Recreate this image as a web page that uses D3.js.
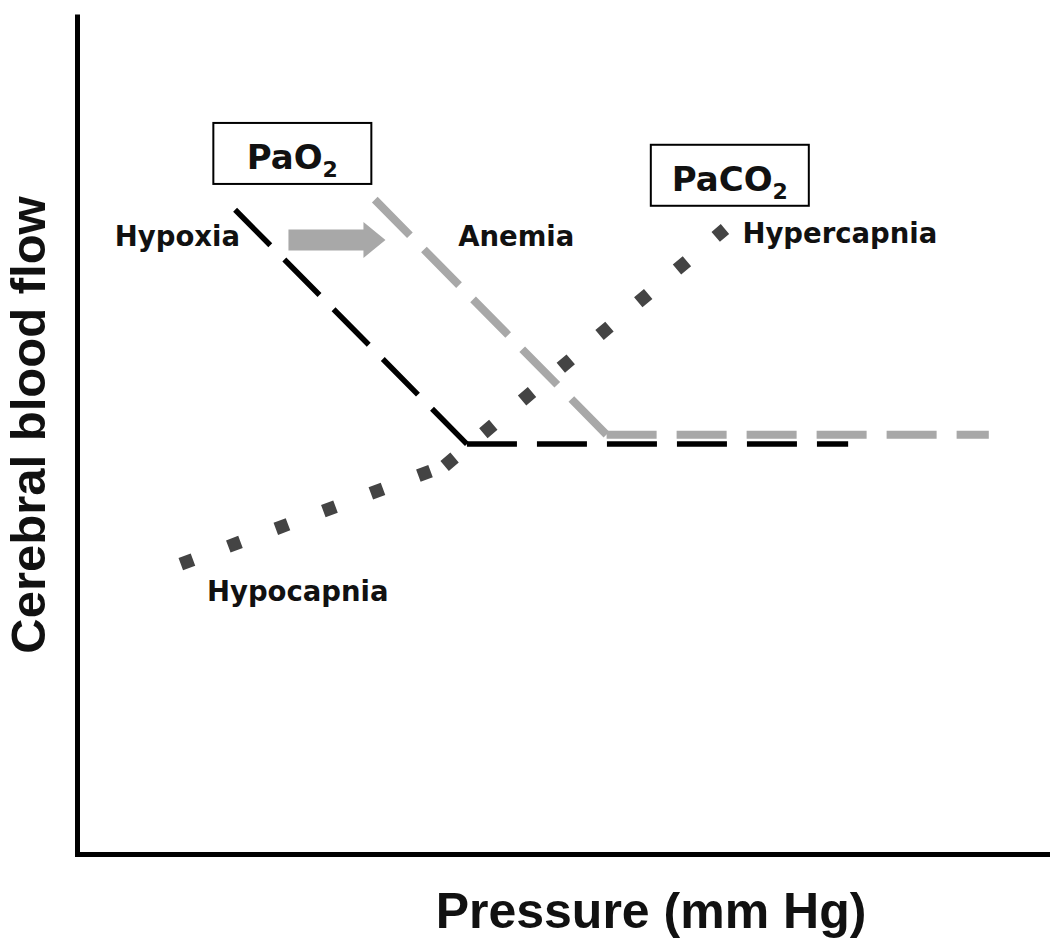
<!DOCTYPE html>
<html>
<head>
<meta charset="utf-8">
<script src="https://cdn.jsdelivr.net/npm/d3@7"></script>
<style>
	body { margin: 0; background: #fff; }
	svg { display: block; }
</style>
</head>
<body>
<svg id="cbf-chart" width="1050" height="949"></svg>
<script>
// curve vertices, arbitrary units (pressure 0-100, flow 0-100)
const pao2Curve = [[16.3, 76.7], [40.2, 48.8], [79.5, 48.8]];
const anemiaCurve = [[30.7, 77.9], [54.6, 49.9], [94.0, 49.9]];
const paco2Curve = [[10.7, 34.5], [37.9, 46.2], [66.8, 74.4]];

const curveNames = ['Hypoxia', 'Anemia', 'Hypocapnia', 'Hypercapnia'];
const curveNameAt = [[3.9, 72.4], [39.3, 72.4], [13.4, 30.1], [68.6, 72.7]];

const boxNames = ['PaO', 'PaCO'];
const boxAt = [[22.2, 83.4], [67.3, 80.8]];

const shiftArrow = [[21.8, 73.1], [31.8, 73.1]];

const svg = d3.select('svg[id=cbf-chart]');

const x = d3.scaleLinear().domain([0, 100]).range([77, 1047]);
const y = d3.scaleLinear().domain([0, 100]).range([854, 14]);

// Axes: only the two thick domain lines
svg.append('g')
	.attr('transform', 'translate(0,854)')
	.call(d3.axisBottom(x).ticks(0).tickSizeOuter(0))
	.call((g) => g.select('.domain')
		.attr('stroke', '#000')
		.attr('stroke-width', 5)
		.attr('stroke-linecap', 'square'));

svg.append('g')
	.attr('transform', 'translate(77,0)')
	.call(d3.axisLeft(y).ticks(0).tickSizeOuter(0))
	.call((g) => g.select('.domain')
		.attr('stroke', '#000')
		.attr('stroke-width', 5));

svg.append('text')
	.attr('x', 651)
	.attr('y', 928)
	.attr('text-anchor', 'middle')
	.attr('font-family', '"Liberation Sans", Arial, sans-serif')
	.attr('font-weight', 'bold')
	.attr('font-size', 50)
	.attr('fill', '#111')
	.text('Pressure (mm Hg)');

svg.append('text')
	.attr('transform', 'translate(45,425) rotate(-90)')
	.attr('text-anchor', 'middle')
	.attr('font-family', '"Liberation Sans", Arial, sans-serif')
	.attr('font-weight', 'bold')
	.attr('font-size', 49)
	.attr('fill', '#111')
	.text('Cerebral blood flow');

// each straight piece restarts its dash pattern, like the drawn original
const pieces = (pts) => d3.pairs(pts);
const line = d3.line().x((d) => x(d[0])).y((d) => y(d[1]));

const curves = [
	{ id: 'anemia', pts: anemiaCurve, color: '#a8a8a8', width: 8, dash: '50 20' },
	{ id: 'pao2', pts: pao2Curve, color: '#000', width: 5.5, dash: '50 20' },
	{ id: 'paco2', pts: paco2Curve, color: '#444', width: 13, dash: '13 37.7' },
];

curves.forEach((c) => {
	svg.append('g')
		.attr('class', 'curve-' + c.id)
		.selectAll('path')
		.data(pieces(c.pts))
		.join('path')
		.attr('d', line)
		.attr('fill', 'none')
		.attr('stroke', c.color)
		.attr('stroke-width', c.width)
		.attr('stroke-dasharray', c.dash)
		.attr('stroke-linecap', 'butt');
});

// block arrow Hypoxia -> Anemia
const ax0 = x(shiftArrow[0][0]);
const ax1 = x(shiftArrow[1][0]);
const ay = y(shiftArrow[0][1]);
svg.append('path')
	.attr('d', [
		'M', ax0, ay - 10.5,
		'L', ax1 - 22, ay - 10.5,
		'L', ax1 - 22, ay - 18,
		'L', ax1, ay,
		'L', ax1 - 22, ay + 18,
		'L', ax1 - 22, ay + 10.5,
		'L', ax0, ay + 10.5, 'Z'
	].join(' '))
	.attr('fill', '#a8a8a8');

svg.append('g')
	.selectAll('text')
	.data(curveNames)
	.join('text')
	.attr('x', (d, i) => x(curveNameAt[i][0]))
	.attr('y', (d, i) => y(curveNameAt[i][1]))
	.attr('font-family', '"DejaVu Sans", sans-serif')
	.attr('font-weight', 'bold')
	.attr('font-size', 27.5)
	.attr('fill', '#111')
	.text((d) => d);

// PaO2 / PaCO2 boxed labels
const boxes = svg.append('g')
	.selectAll('g')
	.data(boxNames)
	.join('g')
	.attr('transform', (d, i) => 'translate(' + [x(boxAt[i][0]), y(boxAt[i][1])] + ')');

boxes.append('rect')
	.attr('x', -79)
	.attr('y', -30.5)
	.attr('width', 158)
	.attr('height', 61)
	.attr('fill', '#fff')
	.attr('stroke', '#000')
	.attr('stroke-width', 2);

const boxText = boxes.append('text')
	.attr('y', 16)
	.attr('text-anchor', 'middle')
	.attr('font-family', '"DejaVu Sans", sans-serif')
	.attr('font-weight', 'bold')
	.attr('font-size', 34)
	.attr('fill', '#111');

boxText.append('tspan').text((d) => d);
boxText.append('tspan')
	.attr('font-size', 22)
	.attr('dy', 8)
	.text('2');
</script>
</body>
</html>
